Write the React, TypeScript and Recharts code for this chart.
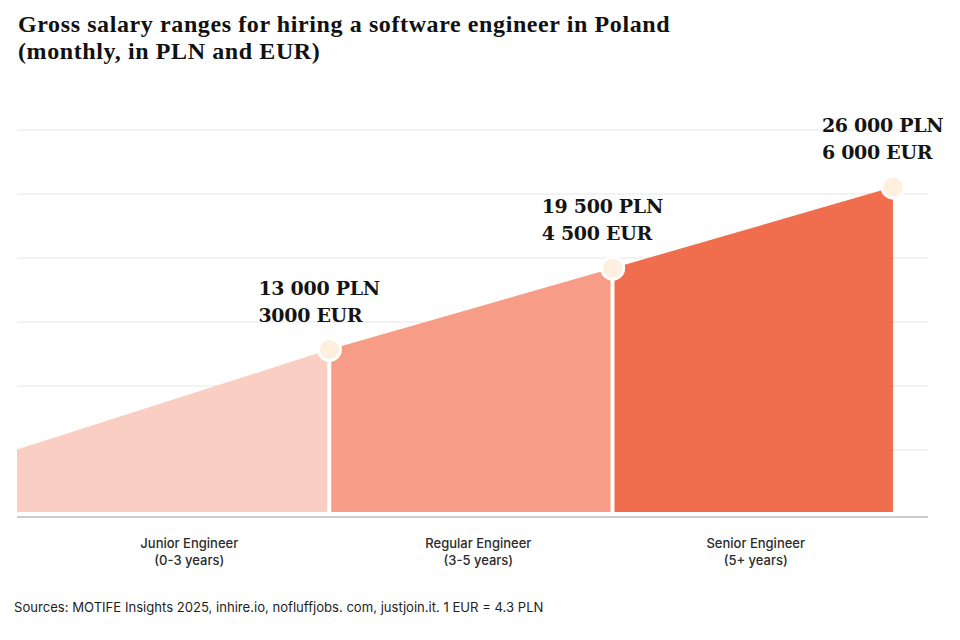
import { ComposedChart, Area, Bar, Line, XAxis, YAxis, CartesianGrid, LabelList } from 'recharts';

// experience levels shown under the axis
const levels = ['Junior Engineer', 'Regular Engineer', 'Senior Engineer'];
const levelYears = ['(0-3 years)', '(3-5 years)', '(5+ years)'];
const levelTickPositions = [0.59, 1.58, 2.53];

// edges of the stepped area (start, junior/regular, regular/senior, end)
const edgePositions = [0, 1.07, 2.04, 3];
const plnValues = [5000, 13000, 19500, 26000];
const plnLabels = ['', '13 000 PLN', '19 500 PLN', '26 000 PLN'];
const eurLabels = ['', '3000 EUR', '4 500 EUR', '6 000 EUR'];
const gridTicks = [4960, 10080, 15200, 20320, 25440, 30560];

const segmentColors = ['#FBCEC3', '#F79C86', '#F06D4D'];

const rows = edgePositions.map((x, i) => {
  const row: any = { x, plnLabel: plnLabels[i] };
  segmentColors.forEach((_, s) => {
    row['seg' + s] = i === s || i === s + 1 ? plnValues[i] : null;
  });
  row.peak = i > 0 ? plnValues[i] : null;
  row.divider = i > 0 && i < edgePositions.length - 1 ? plnValues[i] : null;
  return row;
});

const LevelTick = ({ x, y, index }: any) => (
  <g fontFamily="Inter, sans-serif" fontSize={13} fontWeight={500} fill="#2b2b2b" textAnchor="middle">
    <text x={x} y={y + 31} fill="#2b2b2b">{levels[index]}</text>
    <text x={x} y={y + 48} fill="#2b2b2b">{levelYears[index]}</text>
  </g>
);

const PeakDot = ({ cx, cy }: any) => {
  if (cx == null || cy == null) return null;
  return <circle cx={cx} cy={cy} r={11} fill="#FEEFDF" stroke="#ffffff" strokeWidth={3} />;
};

const PeakLabel = ({ x, y, value, index }: any) => {
  if (!value || y == null) return null;
  return (
    <g fontFamily="'DejaVu Serif', serif" fontWeight="bold" fontSize={19} fill="#141414" letterSpacing={-0.3}>
      <text x={x - 71} y={y - 55}>{value}</text>
      <text x={x - 71} y={y - 28}>{eurLabels[index]}</text>
    </g>
  );
};

export default function App() {
  return (
    <div style={{ position: 'absolute', top: 0, left: 0, width: 960, height: 640, background: '#fff' }}>
      <div style={{ position: 'absolute', left: 18, top: 11, fontFamily: "'Liberation Serif', serif", fontWeight: 'bold', fontSize: 24, lineHeight: '27px', letterSpacing: 0.6, color: '#111' }}>
        Gross salary ranges for hiring a software engineer in Poland
        <br />
        (monthly, in PLN and EUR)
      </div>
      <div style={{ position: 'absolute', top: 0, left: 0 }}>
        <ComposedChart width={960} height={640} data={rows} margin={{ top: 130, right: 32, bottom: 63, left: 17 }}>
          <CartesianGrid vertical={false} stroke="#efefef" strokeWidth={1.5} />
          <XAxis
            dataKey="x"
            type="number"
            domain={[0, 3.12]}
            ticks={levelTickPositions}
            tick={<LevelTick />}
            tickLine={false}
            tickSize={0}
            tickMargin={0}
            height={60}
            interval={0}
            axisLine={{ stroke: '#cccccc', strokeWidth: 2 }}
          />
          <YAxis hide type="number" domain={[-400, 30560]} ticks={gridTicks} />
          {segmentColors.map((c, s) => (
            <Area
              key={s}
              type="linear"
              dataKey={'seg' + s}
              stroke="none"
              fill={c}
              fillOpacity={1}
              dot={false}
              activeDot={false}
              isAnimationActive={false}
            />
          ))}
          <Bar dataKey="divider" barSize={4} fill="#ffffff" isAnimationActive={false} />
          <Line dataKey="peak" stroke="none" dot={<PeakDot />} activeDot={false} isAnimationActive={false}>
            <LabelList dataKey="plnLabel" content={<PeakLabel />} />
          </Line>
        </ComposedChart>
      </div>
      <div style={{ position: 'absolute', left: 14, top: 599, fontFamily: 'Inter, sans-serif', fontSize: 13.1, color: '#1e1e1e' }}>
        Sources: MOTIFE Insights 2025, inhire.io, nofluffjobs. com, justjoin.it. 1 EUR = 4.3 PLN
      </div>
    </div>
  );
}
